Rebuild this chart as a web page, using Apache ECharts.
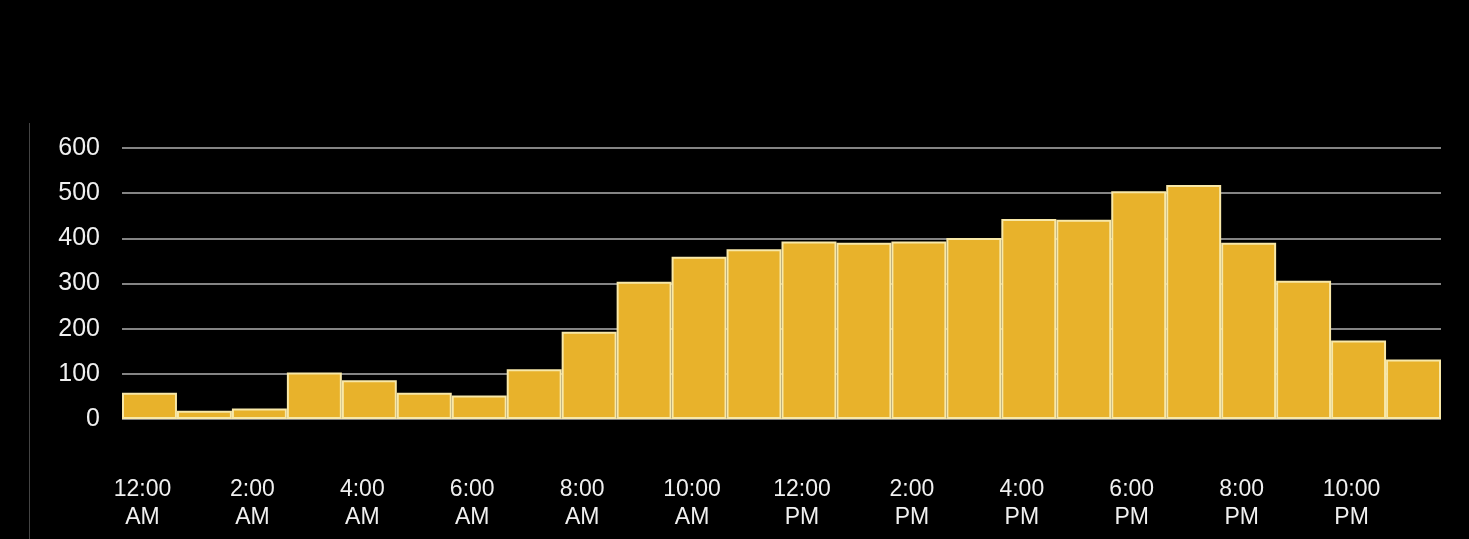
<!DOCTYPE html>
<html><head><meta charset="utf-8">
<script src="https://cdn.jsdelivr.net/npm/echarts@6/dist/echarts.min.js"></script>
<style>html,body{margin:0;padding:0;background:#000;}#c{width:1469px;height:539px;}</style>
</head><body><div id="c"></div>
<script>
const categories = ["12:00\nAM","1:00\nAM","2:00\nAM","3:00\nAM","4:00\nAM","5:00\nAM","6:00\nAM","7:00\nAM","8:00\nAM","9:00\nAM","10:00\nAM","11:00\nAM","12:00\nPM","1:00\nPM","2:00\nPM","3:00\nPM","4:00\nPM","5:00\nPM","6:00\nPM","7:00\nPM","8:00\nPM","9:00\nPM","10:00\nPM","11:00\nPM"];
const values = [58,18,23,103,86,58,52,110,193,304,359,376,393,390,393,401,443,441,504,518,390,306,174,132];
const yTicks = [0,100,200,300,400,500,600];

const chart = echarts.init(document.getElementById('c'));
chart.setOption({
  backgroundColor: '#000',
  animation: false,
  graphic: [{type:'line', shape:{x1:29.5,y1:123,x2:29.5,y2:539}, style:{stroke:'#444', lineWidth:1}}],
  grid: {left:122, right:28, top:148, bottom:120},
  xAxis: {
    type:'category', data: categories,
    axisLine:{show:false}, axisTick:{show:false},
    axisLabel:{interval:1, color:'#f0f0f0', fontSize:23, lineHeight:28, margin:57, padding:[0,14,0,0], fontFamily:'Liberation Sans, Arial, sans-serif'}
  },
  yAxis: {
    type:'value', min:yTicks[0], max:yTicks[yTicks.length-1], interval:100,
    axisLine:{show:false}, axisTick:{show:false},
    axisLabel:{color:'#f0f0f0', fontSize:25, margin:22, fontFamily:'Liberation Sans, Arial, sans-serif'},
    splitLine:{lineStyle:{color:'#b0b0b0', width:1.5}}
  },
  series: [{
    type:'bar', data: values, barCategoryGap:'0%',
    itemStyle:{color:'#E8B22B', borderColor:'#F8E8A8', borderWidth:2}
  }]
});
</script></body></html>
